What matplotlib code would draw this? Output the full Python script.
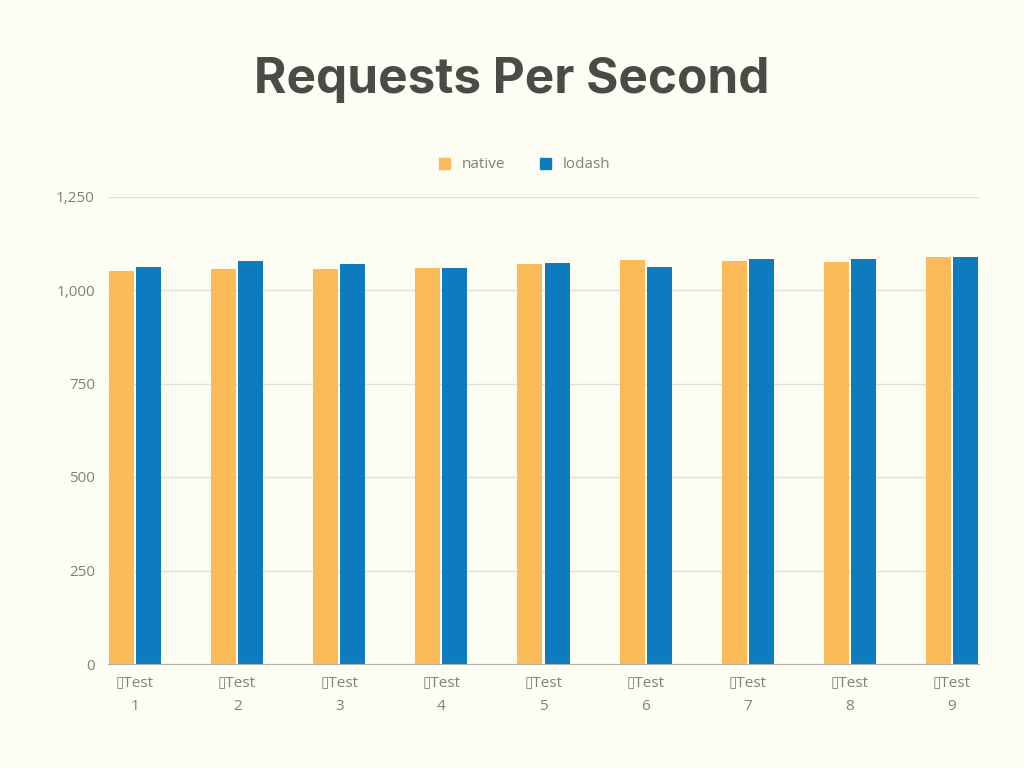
import numpy as np
import matplotlib as mpl
mpl.use('Agg')
import matplotlib.pyplot as plt
from matplotlib.ticker import FuncFormatter
from matplotlib.patches import Rectangle

# data
tests = ['\u25afTest\n%d' % i for i in range(1, 10)]
native = [1051, 1055, 1057, 1060, 1070, 1080, 1078, 1075, 1088]
lodash = [1061, 1078, 1069, 1059, 1072, 1061, 1084, 1083, 1088]
series_names = ['native', 'lodash']
colors = ['#fdba59', '#0d7bbd']
bg = '#fdfdf4'

plt.rcParams['font.family'] = ['Open Sans', 'DejaVu Sans']

fig = plt.figure(figsize=(10.24, 7.68), dpi=100, facecolor=bg)
ax = fig.add_axes([108 / 1024, 1 - 664 / 768, (979 - 108) / 1024, (664 - 196.5) / 768])
ax.set_facecolor(bg)

x = np.arange(len(tests))
w = 0.245
gap = 0.01
ax.bar(x - w / 2 - gap, native, width=w, color=colors[0], zorder=3)
ax.bar(x + w / 2 + gap, lodash, width=w, color=colors[1], zorder=3)

ax.set_xlim(-0.265, len(tests) - 1 + 0.265)
ax.set_ylim(0, 1250)
ax.set_yticks([0, 250, 500, 750, 1000, 1250])
ax.yaxis.set_major_formatter(FuncFormatter(lambda v, p: '{:,.0f}'.format(v)))
ax.set_xticks(x)
ax.set_xticklabels(tests, linespacing=1.8)
ax.tick_params(axis='both', length=0, labelsize=11, labelcolor='#808080')
ax.tick_params(axis='x', pad=8)
ax.tick_params(axis='y', pad=9.5)
ax.grid(axis='y', color='#e0e0da', linewidth=1, zorder=0)
for s in ['top', 'right', 'left']:
    ax.spines[s].set_visible(False)
ax.spines['bottom'].set_color('#b0b0a8')
ax.spines['bottom'].set_zorder(4)

# legend drawn by hand in figure coords
for i, (name, c, sx) in enumerate(zip(series_names, colors, [439, 540])):
    fig.patches.append(Rectangle((sx / 1024, 1 - 169 / 768), 11 / 1024, 11 / 768,
                                 transform=fig.transFigure, color=c))
    fig.text((sx + 23) / 1024, 1 - 165 / 768, name, fontsize=11, color='#808080',
             va='center', ha='left')

fig.text(0.5, 1 - 80 / 768, 'Requests Per Second', ha='center', va='center',
         fontsize=35.6, fontweight='bold', color='#4a4a46',
         family=['Inter', 'DejaVu Sans'])

fig.savefig('out.png', dpi=100, facecolor=bg)
